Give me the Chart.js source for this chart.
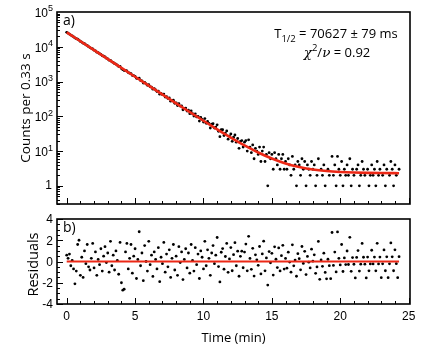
<!DOCTYPE html>
<html><head><meta charset="utf-8">
<script src="https://cdn.jsdelivr.net/npm/chart.js@4.4.1/dist/chart.umd.min.js"></script>
<style>
html,body{margin:0;padding:0;background:#fff;width:421px;height:350px;overflow:hidden}
#top{position:absolute;left:0;top:0;width:421px;height:210px}
#bot{position:absolute;left:0;top:210px;width:421px;height:140px}
</style></head><body>
<div id="top"><canvas id="c1" width="421" height="210"></canvas></div>
<div id="bot"><canvas id="c2" width="421" height="140"></canvas></div>
<script>
// ---- data (time in minutes) ----
const times = [
0,0.1,0.2,0.3,0.4,0.5,0.6,0.7,0.8,0.9,1,1.1,1.2,1.3,1.4,1.5,1.6,1.7,1.8,1.9,
2,2.1,2.2,2.3,2.4,2.5,2.6,2.7,2.8,2.9,3,3.1,3.2,3.3,3.4,3.5,3.6,3.7,3.8,3.9,
4,4.1,4.2,4.3,4.4,4.5,4.6,4.7,4.8,4.9,5,5.1,5.2,5.3,5.4,5.5,5.6,5.7,5.8,5.9,
6,6.1,6.2,6.3,6.4,6.5,6.6,6.7,6.8,6.9,7,7.1,7.2,7.3,7.4,7.5,7.6,7.7,7.8,7.9,
8,8.1,8.2,8.3,8.4,8.5,8.6,8.7,8.8,8.9,9,9.1,9.2,9.3,9.4,9.5,9.6,9.7,9.8,9.9,
10,10.1,10.2,10.3,10.4,10.5,10.6,10.7,10.8,10.9,11,11.1,11.2,11.3,11.4,11.5,11.6,11.7,11.8,11.9,
12,12.1,12.2,12.3,12.4,12.5,12.6,12.7,12.8,12.9,13,13.1,13.2,13.3,13.4,13.5,13.6,13.7,13.8,13.9,
14,14.1,14.2,14.3,14.4,14.5,14.6,14.7,14.8,14.9,15,15.1,15.2,15.3,15.4,15.5,15.6,15.7,15.8,15.9,
16,16.1,16.2,16.3,16.4,16.5,16.6,16.7,16.8,16.9,17,17.1,17.2,17.3,17.4,17.5,17.6,17.7,17.8,17.9,
18,18.1,18.2,18.3,18.4,18.5,18.6,18.7,18.8,18.9,19,19.1,19.2,19.3,19.4,19.5,19.6,19.7,19.8,19.9,
20,20.1,20.2,20.3,20.4,20.5,20.6,20.7,20.8,20.9,21,21.1,21.2,21.3,21.4,21.5,21.6,21.7,21.8,21.9,
22,22.1,22.2,22.3,22.4,22.5,22.6,22.7,22.8,22.9,23,23.1,23.2,23.3,23.4,23.5,23.6,23.7,23.8,23.9,
24,24.1,24.2,24.3];

const counts = [
26100,24560,23220,21730,20560,19270,17980,17100,16440,15550,
14270,13650,12650,12200,11380,10910,10080,9476,9037,8649,
7952,7626,7007,6726,6302,6057,5556,5338,5098,4706,
4495,4123,4068,3699,3546,3263,3176,2947,2711,2707,
2366,2194,2069,2107,2023,1806,1743,1697,1496,1470,
1412,1233,1223,1242,1068,1045,905,951,854,779,
811,708,691,601,622,570,517,532,433,455,
419,435,357,368,326,336,272,286,291,237,
244,204,230,197,199,154,170,172,141,149,
119,143,119,102,118,96,100,73,93,82,
68,86,63,71,62,46,59,61,46,49,
57,37,26,41,41,28,33,38,22,27,
31,19,25,29,18,23,12,19,20,13,
18,20,10,21,13,9,15,6,12,10,
8,13,5,10,13,5,8,1,9,6,
8,3,9,6,4,8,3,6,8,3,
5,3,6,4,2,7,3,4,1,5,
4,2,6,3,5,1,4,3,2,5,
3,4,1,2,6,0,3,2,4,1,
0,3,2,0,7,2,4,1,7,3,
2,5,1,3,2,4,2,6,1,3,
2,0,3,4,1,2,5,3,2,0,
3,1,2,4,2,3,1,5,2,3,
0,2,4,1,3,0,2,5,3,1,
4,2,0,3];

const residuals = [
0.6,0.3,0.7,-0.4,0.1,-0.7,-2.1,-0.9,1.6,2.0,
-1.3,0.4,-1.5,1.0,-0.2,1.6,-0.5,-0.8,0.3,1.7,
-0.6,0.9,-1.3,0.2,-0.3,1.2,-0.9,0.5,1.4,-0.1,
0.8,-1.0,1.9,-0.4,0.6,-0.8,1.0,0.1,-1.2,1.8,
-2.0,-2.7,-2.6,0.9,1.7,-0.7,0.3,1.6,-1.1,0.5,
1.2,-1.6,0.2,2.8,-0.4,0.8,-1.8,1.5,0.0,-0.9,
1.9,-0.3,0.6,-1.4,0.9,0.2,-0.7,1.3,-1.9,0.4,
-0.2,1.8,-1.0,0.7,-0.5,1.1,-1.5,0.3,1.6,-0.8,
0.5,-1.3,1.4,-0.1,0.9,-1.7,0.2,1.2,-0.6,0.8,
-1.1,1.6,0.1,-0.9,1.3,-0.3,0.7,-1.6,1.0,0.4,
-0.7,1.9,-0.4,1.1,0.3,-1.3,0.8,1.5,-0.2,0.6,
2.26,-0.48,-1.92,0.87,1.22,-0.72,0.47,1.70,-1.02,0.24,
1.31,-0.87,0.64,1.77,-0.40,0.97,-1.39,0.49,0.97,-0.59,
0.89,1.64,-0.88,2.37,0.29,-0.74,1.24,-1.37,0.63,0.16,
-0.36,1.41,-1.17,0.71,1.91,-0.88,0.34,-2.22,0.93,-0.12,
0.77,-1.28,1.38,0.21,-0.57,1.28,-0.89,0.55,1.52,-0.71,
0.29,-0.63,0.88,-0.05,-1.00,1.57,-0.41,0.13,-1.39,0.74,
0.27,-0.78,1.41,-0.18,0.96,-1.23,0.48,-0.06,-0.60,1.16,
0.03,0.63,-1.11,-0.51,1.89,-1.68,0.14,-0.45,0.78,-1.03,
-1.63,0.21,-0.39,-1.62,2.73,-0.37,0.89,-0.98,2.78,0.30,
-0.32,1.60,-0.94,0.34,-0.29,0.99,-0.28,2.28,-0.92,0.37,
-0.26,-1.55,0.38,1.03,-0.90,-0.25,1.70,0.40,-0.25,-1.55,
0.42,-0.88,-0.23,1.06,-0.23,0.42,-0.88,1.71,-0.23,0.42,
-1.52,-0.22,1.09,-0.87,0.44,-1.52,-0.22,1.75,0.44,-0.87,
1.10,-0.20,-1.52,0.45];

const fitTimes  = [0, 2, 4, 6, 8, 10, 11, 12, 13, 14, 15, 16, 17, 18, 19, 20, 21, 22, 23, 24.3];
const fitCounts = [26000, 8010, 2470, 761, 236, 74.4, 42.3, 24.5, 14.6, 9.1, 6.1, 4.4, 3.5, 2.95, 2.66, 2.5, 2.41, 2.36, 2.33, 2.31];
const zeroLineTimes  = [0, 24.3];
const zeroLineValues = [0, 0];

const xTicks = [0, 5, 10, 15, 20, 25];
const xTickLabels = ['0', '5', '10', '15', '20', '25'];
const yTopExponents = [0, 1, 2, 3, 4, 5];
const yBotTicks = [-4, -2, 0, 2, 4];
const yBotTickLabels = ['-4', '-2', '0', '2', '4'];

const yTitleTop = 'Counts per 0.33 s';
const yTitleBot = 'Residuals';
const xTitle = 'Time (min)';
const panelA = 'a)', panelB = 'b)';
const halfLifeText = ' = 70627 \u00B1 79 ms';
const chiText = ' = 0.92';

// ---- styling ----
const RED = 'rgb(236,40,22)';
const TICKFONT = '12px "Liberation Sans", Arial, sans-serif';
const SUPFONT = '9px "Liberation Sans", Arial, sans-serif';
const LABFONT = '"Open Sans", sans-serif';

function drawXTicks(ctx, xs, a) {
  ctx.beginPath();
  for (let v = 0; v <= 25; v++) {
    const px = Math.round(xs.getPixelForValue(v)) + 0.5;
    const len = (v % 5 === 0) ? 6 : 3;
    ctx.moveTo(px, a.bottom); ctx.lineTo(px, a.bottom - len);
  }
  ctx.stroke();
}

const topPlugin = {
  id: 'topFrame',
  afterDatasetsDraw(chart) {
    const {ctx, chartArea: a, scales} = chart;
    const xs = scales.x, ys = scales.y;
    ctx.save();
    ctx.strokeStyle = '#000'; ctx.fillStyle = '#000'; ctx.lineWidth = 1;
    drawXTicks(ctx, xs, a);
    ctx.beginPath();
    for (let e = -1; e <= 4; e++) {
      for (let m = 1; m <= 9; m++) {
        const v = m * Math.pow(10, e);
        if (v < ys.min || v > ys.max) continue;
        const py = Math.round(ys.getPixelForValue(v)) + 0.5;
        const len = (m === 1) ? 6 : 3;
        ctx.moveTo(a.left, py); ctx.lineTo(a.left + len, py);
      }
    }
    ctx.stroke();
    ctx.lineWidth = 1.6;
    ctx.strokeRect(a.left, a.top, a.right - a.left, a.bottom - a.top);
    // y tick labels
    const rx = 53;
    ctx.textBaseline = 'middle';
    yTopExponents.forEach(e => {
      const py = ys.getPixelForValue(Math.pow(10, e));
      if (e === 0) {
        ctx.font = TICKFONT; ctx.textAlign = 'right';
        ctx.fillText('1', rx - 1, py);
      } else {
        ctx.font = SUPFONT; const we = ctx.measureText(String(e)).width;
        ctx.textAlign = 'right';
        ctx.fillText(String(e), rx, py - 3);
        ctx.font = TICKFONT;
        ctx.fillText('10', rx - we, py + 1.5);
      }
    });
    // y title
    ctx.save();
    ctx.translate(26, (a.top + a.bottom) / 2);
    ctx.rotate(-Math.PI / 2);
    ctx.font = '13.5px ' + LABFONT; ctx.textAlign = 'center'; ctx.textBaseline = 'middle';
    ctx.fillText(yTitleTop, 0, 0);
    ctx.restore();
    // panel label
    ctx.font = '14px ' + LABFONT; ctx.textAlign = 'left'; ctx.textBaseline = 'middle';
    ctx.fillText(panelA, a.left + 6, a.top + 9);
    // annotations
    drawAnnotation(ctx);
    ctx.restore();
  }
};

function drawAnnotation(ctx) {
  const f = '13px ' + LABFONT, fs = '9.5px ' + LABFONT, fi = 'italic 13.5px "DejaVu Serif", serif';
  ctx.textAlign = 'left'; ctx.textBaseline = 'alphabetic';
  ctx.font = f; const wT = ctx.measureText('T').width; const wMain = ctx.measureText(halfLifeText).width;
  ctx.font = fs; const wSub = ctx.measureText('1/2').width;
  let x = 336 - (wT + wSub + wMain) / 2; const y1 = 38;
  ctx.font = f; ctx.fillText('T', x, y1); x += wT;
  ctx.font = fs; ctx.fillText('1/2', x, y1 + 3.5); x += wSub;
  ctx.font = f; ctx.fillText(halfLifeText, x, y1);
  const y2 = 57;
  ctx.font = fi; const wChi = ctx.measureText('\u03C7').width; const wNu = ctx.measureText('\u03BD').width;
  ctx.font = fs; const w2 = ctx.measureText('2').width;
  ctx.font = f; const wSl = ctx.measureText('/').width; const wEq = ctx.measureText(chiText).width;
  x = 337 - (wChi + w2 + wSl + wNu + wEq) / 2;
  ctx.font = fi; ctx.fillText('\u03C7', x, y2); x += wChi;
  ctx.font = fs; ctx.fillText('2', x, y2 - 6); x += w2;
  ctx.font = f; ctx.fillText('/', x, y2); x += wSl;
  ctx.font = fi; ctx.fillText('\u03BD', x, y2); x += wNu;
  ctx.font = f; ctx.fillText(chiText, x, y2);
}

const botPlugin = {
  id: 'botFrame',
  afterDatasetsDraw(chart) {
    const {ctx, chartArea: a, scales} = chart;
    const xs = scales.x, ys = scales.y;
    ctx.save();
    ctx.strokeStyle = '#000'; ctx.fillStyle = '#000'; ctx.lineWidth = 1;
    drawXTicks(ctx, xs, a);
    ctx.beginPath();
    for (let k = -8; k <= 8; k++) {
      const v = k * 0.5;
      const py = Math.round(ys.getPixelForValue(v)) + 0.5;
      const len = (k % 4 === 0) ? 6 : 3;
      ctx.moveTo(a.left, py); ctx.lineTo(a.left + len, py);
    }
    ctx.stroke();
    ctx.lineWidth = 1.6;
    ctx.strokeRect(a.left, a.top, a.right - a.left, a.bottom - a.top);
    ctx.font = TICKFONT; ctx.textBaseline = 'middle';
    ctx.textAlign = 'right';
    yBotTicks.forEach((v, i) => ctx.fillText(yBotTickLabels[i], 53, ys.getPixelForValue(v) + 1));
    ctx.textAlign = 'center';
    xTicks.forEach((v, i) => ctx.fillText(xTickLabels[i], xs.getPixelForValue(v), a.bottom + 13));
    ctx.font = '13px ' + LABFONT;
    ctx.fillText(xTitle, (a.left + a.right) / 2, a.bottom + 34);
    ctx.save();
    ctx.translate(34, (a.top + a.bottom) / 2 + 3);
    ctx.rotate(-Math.PI / 2);
    ctx.font = '14.5px ' + LABFONT; ctx.textAlign = 'center'; ctx.textBaseline = 'middle';
    ctx.fillText(yTitleBot, 0, 0);
    ctx.restore();
    ctx.font = '14px ' + LABFONT; ctx.textAlign = 'left'; ctx.textBaseline = 'middle';
    ctx.fillText(panelB, a.left + 6, a.top + 9);
    ctx.restore();
  }
};

const xScale = { type: 'linear', min: -0.71, max: 25.1, display: false };

new Chart(document.getElementById('c1'), {
  type: 'scatter',
  data: { datasets: [
    { type: 'line', data: fitTimes.map((t, i) => ({x: t, y: fitCounts[i]})), borderColor: RED, borderWidth: 2.6,
      pointRadius: 0, fill: false, cubicInterpolationMode: 'monotone', order: 0 },
    { data: times.map((t, i) => ({x: t, y: counts[i] > 0 ? counts[i] : null})), backgroundColor: '#000',
      borderWidth: 0, pointRadius: 1.4, order: 1 }
  ]},
  options: {
    responsive: false, animation: false, events: [],
    layout: { padding: { left: 57, right: 11, top: 12, bottom: 6 } },
    plugins: { legend: { display: false }, tooltip: { enabled: false } },
    scales: { x: xScale, y: { type: 'logarithmic', min: 0.3, max: 100000, display: false } }
  },
  plugins: [topPlugin]
});

new Chart(document.getElementById('c2'), {
  type: 'scatter',
  data: { datasets: [
    { type: 'line', data: zeroLineTimes.map((t, i) => ({x: t, y: zeroLineValues[i]})), borderColor: RED, borderWidth: 2,
      pointRadius: 0, fill: false, order: 0 },
    { data: times.map((t, i) => ({x: t, y: residuals[i]})), backgroundColor: '#000',
      borderWidth: 0, pointRadius: 1.4, order: 1 }
  ]},
  options: {
    responsive: false, animation: false, events: [],
    layout: { padding: { left: 57, right: 11, top: 9, bottom: 46 } },
    plugins: { legend: { display: false }, tooltip: { enabled: false } },
    scales: { x: xScale, y: { type: 'linear', min: -4, max: 4, display: false } }
  },
  plugins: [botPlugin]
});
</script>
</body></html>
